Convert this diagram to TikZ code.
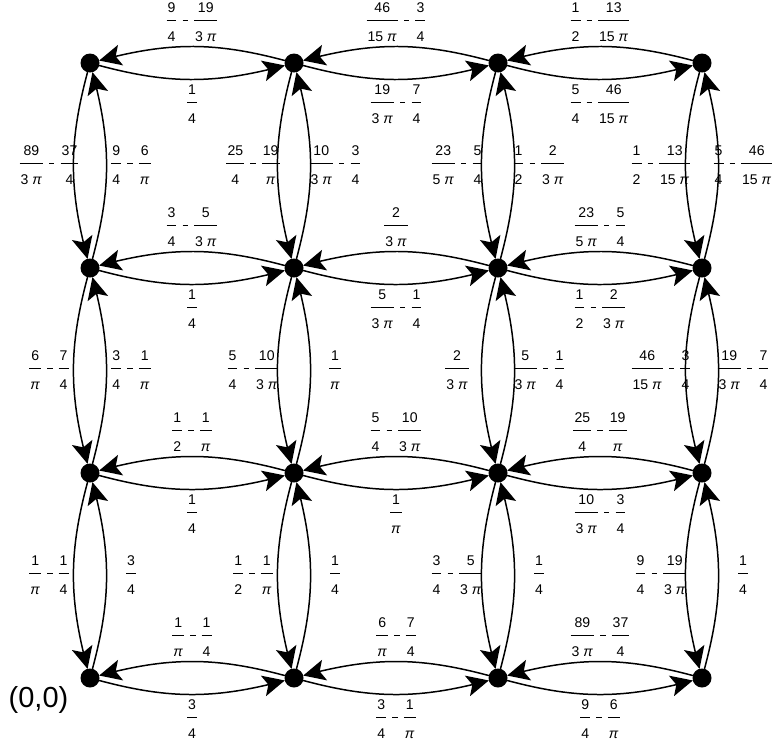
\documentclass[tikz,border=0pt]{standalone}
\usepackage{fontspec}
\setmainfont{Liberation Sans}
\usepackage{amsmath}
\usetikzlibrary{arrows.meta,bending,calc,positioning}
\newcommand\fr[2]{\ensuremath{\genfrac{}{}{0.5pt}{0}{\mbox{\kern0.6pt#1\kern0.6pt}\rule[-2.8pt]{0pt}{2.8pt}}{\rule{0pt}{10.2pt}\mbox{\kern0.6pt#2\kern0.6pt}}}}
\newcommand\mn{\hspace{2.3pt}\rule[1.75pt]{3pt}{0.5pt}\hspace{2.3pt}}
\newcommand\piit{\textit{π}}
\tikzset{vert/.style={circle,fill=black,inner sep=0pt,outer sep=0pt,minimum size=0.38cm},
  link/.style={line width=0.85pt,-{Stealth[length=0.44cm,width=0.42cm,inset=0.1cm]},bend right=15},
  lbl/.style={inner sep=0pt,font=\fontsize{8}{9.6}\selectfont}}
\begin{document}
\begin{tikzpicture}
\useasboundingbox (-1.8,-1.32) rectangle (13.68,13.56);
% vertices
\foreach \i in {0,...,3}
  \foreach \j in {0,...,3}
    \node[vert] (v\i\j) at (\i*4.08,\j*4.1) {};
\node (orig) [left=0.12cm of v00, yshift=-0.44cm, font=\fontsize{16.5}{19.8}\selectfont] {(0,0)};
% horizontal arcs
\foreach \s/\t/\lab in {
  v13/v03/{\fr{9}{4}\mn\fr{19}{3 \piit}}, v03/v13/{\fr{1}{4}},
  v23/v13/{\fr{46}{15 \piit}\mn\fr{3}{4}}, v13/v23/{\fr{19}{3 \piit}\mn\fr{7}{4}},
  v33/v23/{\fr{1}{2}\mn\fr{13}{15 \piit}}, v23/v33/{\fr{5}{4}\mn\fr{46}{15 \piit}},
  v12/v02/{\fr{3}{4}\mn\fr{5}{3 \piit}}, v02/v12/{\fr{1}{4}},
  v22/v12/{\fr{2}{3 \piit}}, v12/v22/{\fr{5}{3 \piit}\mn\fr{1}{4}},
  v32/v22/{\fr{23}{5 \piit}\mn\fr{5}{4}}, v22/v32/{\fr{1}{2}\mn\fr{2}{3 \piit}},
  v11/v01/{\fr{1}{2}\mn\fr{1}{\piit}}, v01/v11/{\fr{1}{4}},
  v21/v11/{\fr{5}{4}\mn\fr{10}{3 \piit}}, v11/v21/{\fr{1}{\piit}},
  v31/v21/{\fr{25}{4}\mn\fr{19}{\piit}}, v21/v31/{\fr{10}{3 \piit}\mn\fr{3}{4}},
  v10/v00/{\fr{1}{\piit}\mn\fr{1}{4}}, v00/v10/{\fr{3}{4}},
  v20/v10/{\fr{6}{\piit}\mn\fr{7}{4}}, v10/v20/{\fr{3}{4}\mn\fr{1}{\piit}},
  v30/v20/{\fr{89}{3 \piit}\mn\fr{37}{4}}, v20/v30/{\fr{9}{4}\mn\fr{6}{\piit}}}
  {\draw[link] (\s) to (\t);
   \node[lbl] at ($(\s)!.5!(\t)!0.82cm!-90:(\t)$) {\lab};}
% vertical arcs
\foreach \s/\t/\lab in {
  v03/v02/{\fr{89}{3 \piit}\mn\fr{37}{4}}, v02/v03/{\fr{9}{4}\mn\fr{6}{\piit}},
  v13/v12/{\fr{25}{4}\mn\fr{19}{\piit}}, v12/v13/{\fr{10}{3 \piit}\mn\fr{3}{4}},
  v23/v22/{\fr{23}{5 \piit}\mn\fr{5}{4}}, v22/v23/{\fr{1}{2}\mn\fr{2}{3 \piit}},
  v33/v32/{\fr{1}{2}\mn\fr{13}{15 \piit}}, v32/v33/{\fr{5}{4}\mn\fr{46}{15 \piit}},
  v02/v01/{\fr{6}{\piit}\mn\fr{7}{4}}, v01/v02/{\fr{3}{4}\mn\fr{1}{\piit}},
  v12/v11/{\fr{5}{4}\mn\fr{10}{3 \piit}}, v11/v12/{\fr{1}{\piit}},
  v22/v21/{\fr{2}{3 \piit}}, v21/v22/{\fr{5}{3 \piit}\mn\fr{1}{4}},
  v32/v31/{\fr{46}{15 \piit}\mn\fr{3}{4}}, v31/v32/{\fr{19}{3 \piit}\mn\fr{7}{4}},
  v01/v00/{\fr{1}{\piit}\mn\fr{1}{4}}, v00/v01/{\fr{3}{4}},
  v11/v10/{\fr{1}{2}\mn\fr{1}{\piit}}, v10/v11/{\fr{1}{4}},
  v21/v20/{\fr{3}{4}\mn\fr{5}{3 \piit}}, v20/v21/{\fr{1}{4}},
  v31/v30/{\fr{9}{4}\mn\fr{19}{3 \piit}}, v30/v31/{\fr{1}{4}}}
  {\draw[link] (\s) to (\t);
   \node[lbl] at ($(\s)!.5!(\t)!0.82cm!-90:(\t)$) {\lab};}
\end{tikzpicture}
\end{document}
